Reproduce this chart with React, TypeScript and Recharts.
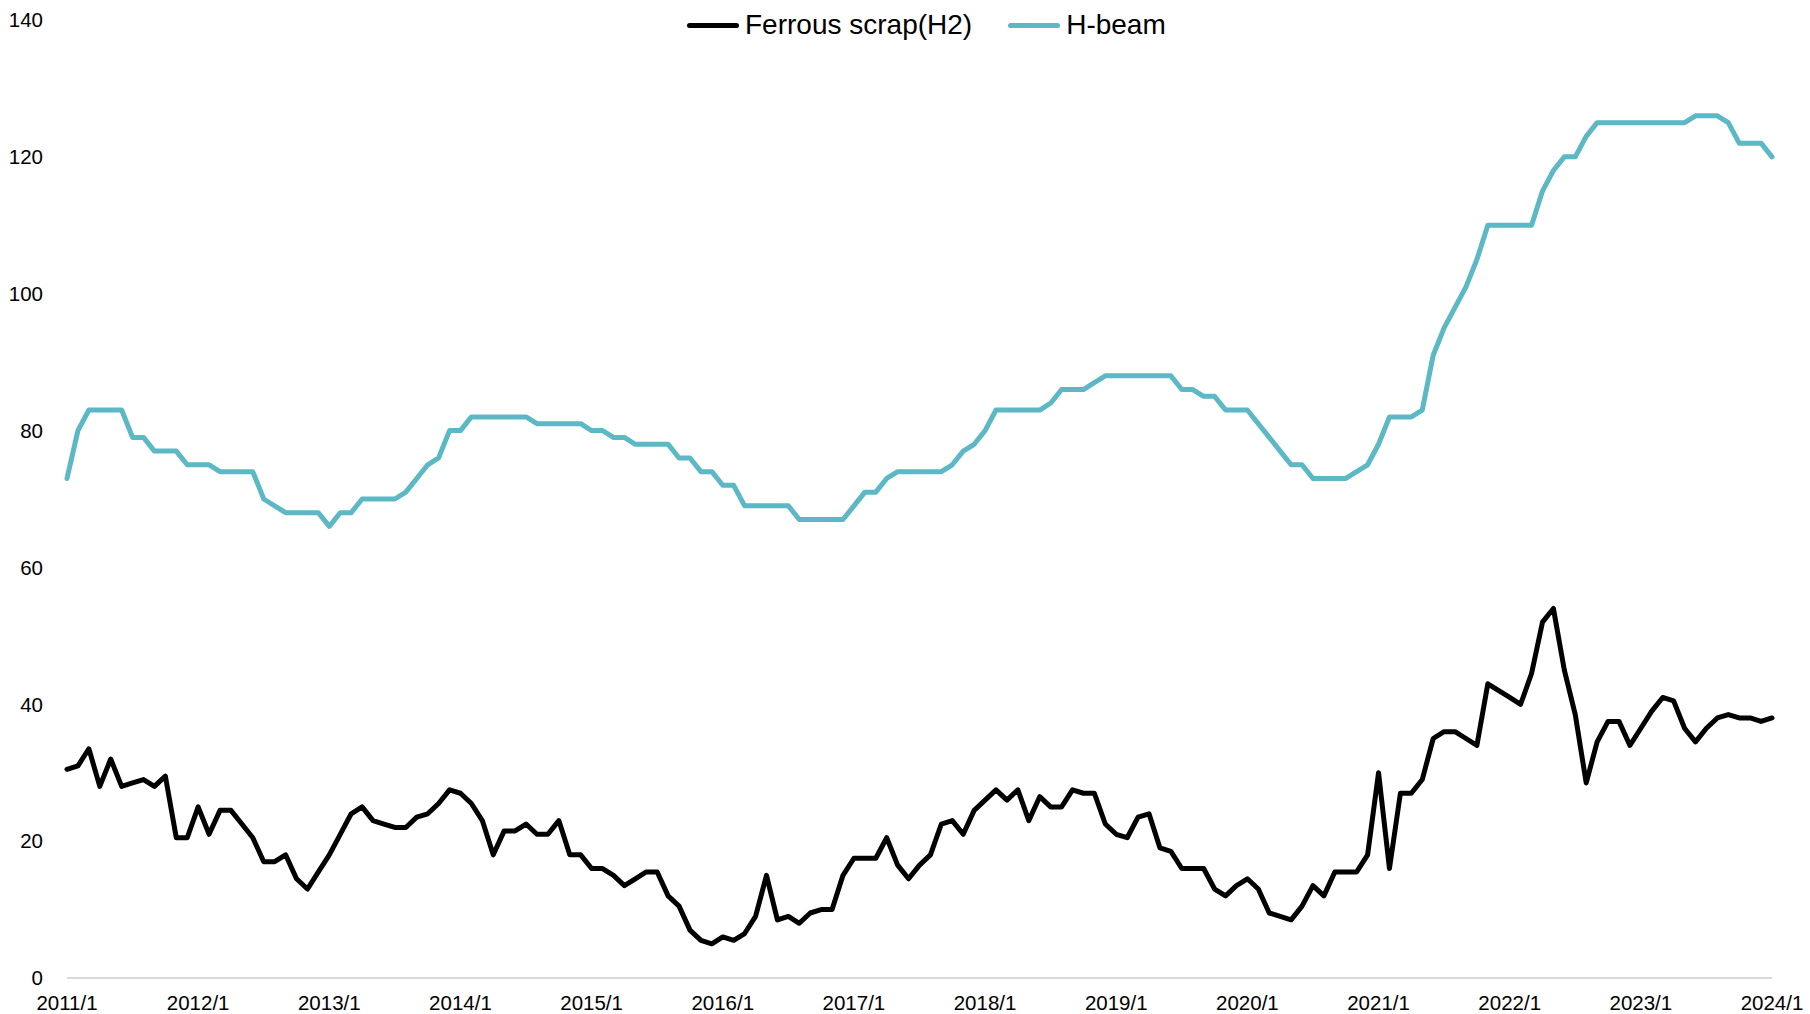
import React from 'react';
import { LineChart, Line, XAxis, YAxis, Legend } from 'recharts';

// monthly categories 2011/1 .. 2024/1
const months: string[] = [];
for (let y = 2011; y <= 2024; y++) {
  for (let m = 1; m <= 12; m++) {
    months.push(`${y}/${m}`);
    if (y === 2024) break;
  }
}

const yearTicks = [
  '2011/1', '2012/1', '2013/1', '2014/1', '2015/1', '2016/1', '2017/1',
  '2018/1', '2019/1', '2020/1', '2021/1', '2022/1', '2023/1', '2024/1',
];

const valueTicks = [0, 20, 40, 60, 80, 100, 120, 140];

const ferrousScrap = [
  30.5, 31, 33.5, 28, 32, 28, 28.5, 29, 28, 29.5, 20.5, 20.5,
  25, 21, 24.5, 24.5, 22.5, 20.5, 17, 17, 18, 14.5, 13, 15.5,
  18, 21, 24, 25, 23, 22.5, 22, 22, 23.5, 24, 25.5, 27.5,
  27, 25.5, 23, 18, 21.5, 21.5, 22.5, 21, 21, 23, 18, 18,
  16, 16, 15, 13.5, 14.5, 15.5, 15.5, 12, 10.5, 7, 5.5, 5,
  6, 5.5, 6.5, 9, 15, 8.5, 9, 8, 9.5, 10, 10, 15,
  17.5, 17.5, 17.5, 20.5, 16.5, 14.5, 16.5, 18, 22.5, 23, 21, 24.5,
  26, 27.5, 26, 27.5, 23, 26.5, 25, 25, 27.5, 27, 27, 22.5,
  21, 20.5, 23.5, 24, 19, 18.5, 16, 16, 16, 13, 12, 13.5,
  14.5, 13, 9.5, 9, 8.5, 10.5, 13.5, 12, 15.5, 15.5, 15.5, 18,
  30, 16, 27, 27, 29, 35, 36, 36, 35, 34, 43, 42,
  41, 40, 44.5, 52, 54, 45, 38.5, 28.5, 34.5, 37.5, 37.5, 34,
  36.5, 39, 41, 40.5, 36.5, 34.5, 36.5, 38, 38.5, 38, 38, 37.5,
  38,
];

const hBeam = [
  73, 80, 83, 83, 83, 83, 79, 79, 77, 77, 77, 75,
  75, 75, 74, 74, 74, 74, 70, 69, 68, 68, 68, 68,
  66, 68, 68, 70, 70, 70, 70, 71, 73, 75, 76, 80,
  80, 82, 82, 82, 82, 82, 82, 81, 81, 81, 81, 81,
  80, 80, 79, 79, 78, 78, 78, 78, 76, 76, 74, 74,
  72, 72, 69, 69, 69, 69, 69, 67, 67, 67, 67, 67,
  69, 71, 71, 73, 74, 74, 74, 74, 74, 75, 77, 78,
  80, 83, 83, 83, 83, 83, 84, 86, 86, 86, 87, 88,
  88, 88, 88, 88, 88, 88, 86, 86, 85, 85, 83, 83,
  83, 81, 79, 77, 75, 75, 73, 73, 73, 73, 74, 75,
  78, 82, 82, 82, 83, 91, 95, 98, 101, 105, 110, 110,
  110, 110, 110, 115, 118, 120, 120, 123, 125, 125, 125, 125,
  125, 125, 125, 125, 125, 126, 126, 126, 125, 122, 122, 122,
  120,
];

const data = months.map((month, i) => ({
  month,
  scrap: ferrousScrap[i],
  hbeam: hBeam[i],
}));

const FONT = '"Liberation Sans", Arial, sans-serif';

const renderLegend = (props: any) => {
  const { payload } = props;
  return (
    <div
      style={{
        display: 'flex',
        alignItems: 'center',
        height: 50,
        paddingLeft: 687,
        fontFamily: FONT,
        fontSize: 28,
        color: '#000',
      }}
    >
      {(payload || []).map((entry: any, idx: number) => (
        <div
          key={entry.value}
          style={{ display: 'flex', alignItems: 'center', marginLeft: idx === 0 ? 0 : 36 }}
        >
          <span
            style={{
              display: 'inline-block',
              width: 52,
              height: 5,
              borderRadius: 3,
              background: entry.color,
              marginRight: 6,
            }}
          />
          <span>{entry.value}</span>
        </div>
      ))}
    </div>
  );
};

export default function App() {
  return (
    <div style={{ position: 'absolute', left: 0, top: 0, background: '#fff' }}>
      <LineChart
        width={1810}
        height={1014}
        data={data}
        margin={{ top: 20, right: 38, bottom: 0, left: 0 }}
      >
        <XAxis
          dataKey="month"
          scale="point"
          ticks={yearTicks}
          interval={0}
          height={36}
          tickLine={false}
          tickMargin={11}
          axisLine={{ stroke: '#d9d9d9', strokeWidth: 2 }}
          tick={{ fontSize: 20.5, fill: '#000', fontFamily: FONT }}
        />
        <YAxis
          type="number"
          domain={[0, 140]}
          ticks={valueTicks}
          width={67}
          axisLine={false}
          tickLine={false}
          tickMargin={18}
          tick={{ fontSize: 20.5, fill: '#000', fontFamily: FONT }}
        />
        <Legend
          verticalAlign="middle"
          align="center"
          layout="horizontal"
          wrapperStyle={{ top: 0, left: 0, width: 1810 }}
          content={renderLegend}
        />
        <Line
          type="linear"
          dataKey="scrap"
          name="Ferrous scrap(H2)"
          stroke="#000000"
          strokeWidth={5}
          strokeLinejoin="round"
          strokeLinecap="round"
          dot={false}
          isAnimationActive={false}
        />
        <Line
          type="linear"
          dataKey="hbeam"
          name="H-beam"
          stroke="#5bb8c4"
          strokeWidth={5}
          strokeLinejoin="round"
          strokeLinecap="round"
          dot={false}
          isAnimationActive={false}
        />
      </LineChart>
    </div>
  );
}
